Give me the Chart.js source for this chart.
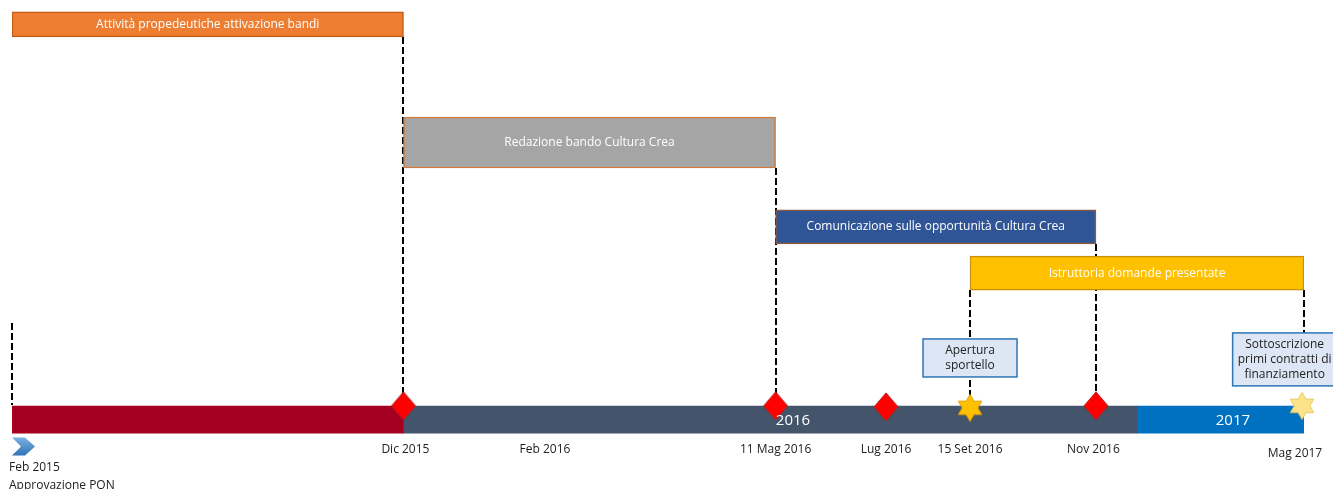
<!DOCTYPE html>
<html><head><meta charset="utf-8">
<script src="https://cdn.jsdelivr.net/npm/chart.js@4"></script>
<style>html,body{margin:0;padding:0;background:#fff}#wrap{width:1333px;height:489px;position:relative}</style>
</head><body><div id="wrap"><canvas id="c"></canvas></div>
<script>
// ---- data (timeline positions are in abstract timeline units 0..100, lanes 0..100 top->bottom) ----
const taskNames = ['Attività propedeutiche attivazione bandi','Redazione bando Cultura Crea','Comunicazione sulle opportunità Cultura Crea','Istruttoria domande presentate'];
const taskStart = [0, 30.3, 59.1, 74.15];
const taskEnd = [30.3, 59.1, 83.9, 100];
const taskLane = [5.0, 29.15, 46.4, 55.85];
const periodNames = ['', '2016', '2017'];
const periodStart = [0, 30.3, 87.07];
const periodEnd = [30.3, 87.07, 100];
const periodLabelPos = [15, 60.45, 94.5];
const timelineLane = 85.8;
const milestoneNames = ['Dic 2015','Feb 2016','11 Mag 2016','Lug 2016','15 Set 2016','Nov 2016','Mag 2017'];
const milestonePos = [30.45, 41.25, 59.1, 67.65, 74.15, 83.7, 99.3];
const milestoneLabelLane = [92.0, 92.0, 92.0, 92.0, 92.0, 92.0, 92.8];
const startLabel = ['Feb 2015', 'Approvazione PON'];
const diamondPos = [30.3, 59.1, 67.65, 83.9];
const diamondLane = [83.0, 83.0, 83.2, 83.0];
const starPos = [74.15, 99.85];
const starLane = [83.4, 83.0];
const connectorPos = [0, 30.3, 59.1, 74.15, 83.9, 100];
const connectorFrom = [66.05, 7.57, 34.36, 59.3, 49.9, 59.3];
const connectorTo = [82.8, 82.8, 82.8, 82.8, 82.8, 68.5];
const calloutText = [['Apertura','sportello'], ['Sottoscrizione','primi contratti di','finanziamento']];
const calloutPos = [74.15, 98.5];
const calloutLane = [73.2, 73.5];

// ---- styles ----
const taskColors = ['#ED7D31','#A5A5A5','#2F5597','#FFC000'];
const taskBorders = ['#C55A11','#D07A3A','#8A5A3C','#C8900A'];
const taskThickness = [25, 51, 34, 34];
const periodColors = ['#A50021','#44546A','#0070C0'];

function makeDiamond(){
  const c = document.createElement('canvas'); c.width = 26; c.height = 30;
  const g = c.getContext('2d');
  g.beginPath(); g.moveTo(13,1); g.lineTo(25,15); g.lineTo(13,29); g.lineTo(1,15); g.closePath();
  g.fillStyle = '#FF0000'; g.fill(); g.strokeStyle = '#B22020'; g.lineWidth = 1; g.stroke();
  return c;
}
function makeStar(fill, stroke){
  const c = document.createElement('canvas'); c.width = 28; c.height = 30;
  const g = c.getContext('2d');
  const cx = 14, cy = 15, R = 13.5, r = 7.8;
  g.beginPath();
  for (let i = 0; i < 12; i++){
    const a = -Math.PI/2 + i*Math.PI/6;
    const rr = i%2===0 ? R : r;
    const x = cx + rr*Math.cos(a), y = cy + rr*Math.sin(a);
    i===0 ? g.moveTo(x,y) : g.lineTo(x,y);
  }
  g.closePath(); g.fillStyle = fill; g.fill(); g.strokeStyle = stroke; g.lineWidth = 1; g.stroke();
  return c;
}
const diamondImg = makeDiamond();
const starImgs = [makeStar('#FFC000','#E0A000'), makeStar('#FBE38A','#E8C860')];

const datasets = [];
taskNames.forEach((n,i)=>{
  datasets.push({type:'bar', indexAxis:'y', label:n, data:[{x:[taskStart[i],taskEnd[i]], y:taskLane[i]}],
    backgroundColor:taskColors[i], borderColor:taskBorders[i], borderWidth:1.5, borderSkipped:false,
    barThickness:taskThickness[i], grouped:false, order:5});
});
periodNames.forEach((n,i)=>{
  datasets.push({type:'bar', indexAxis:'y', label:'p'+i, data:[{x:[periodStart[i],periodEnd[i]], y:timelineLane}],
    backgroundColor:periodColors[i], borderWidth:0, borderSkipped:false, barThickness:27, grouped:false, order:5});
});
datasets.push({type:'scatter', label:'diamonds', data:diamondPos.map((p,i)=>({x:p,y:diamondLane[i]})),
  pointStyle:diamondImg, clip:false, order:1});
datasets.push({type:'scatter', label:'stars', data:starPos.map((p,i)=>({x:p,y:starLane[i]})),
  pointStyle:starImgs, clip:false, order:1});

const FONT = '"Open Sans", "DejaVu Sans", sans-serif';

const decor = {
  id:'decor',
  beforeDatasetsDraw(chart){
    const {ctx, scales:{x,y}} = chart;
    ctx.save();
    ctx.strokeStyle = '#000'; ctx.lineWidth = 2; ctx.setLineDash([7,3]);
    connectorPos.forEach((p,i)=>{
      let px = Math.round(x.getPixelForValue(p));
      ctx.beginPath(); ctx.moveTo(px, y.getPixelForValue(connectorFrom[i])); ctx.lineTo(px, y.getPixelForValue(connectorTo[i])); ctx.stroke();
    });
    ctx.restore();
  },
  afterDatasetsDraw(chart){
    const {ctx, scales:{x,y}} = chart;
    ctx.save();
    // task labels
    ctx.fillStyle = '#fff'; ctx.textAlign = 'center'; ctx.textBaseline = 'middle';
    ctx.font = '12px ' + FONT;
    taskNames.forEach((n,i)=>{
      const cx = (x.getPixelForValue(taskStart[i]) + x.getPixelForValue(taskEnd[i]))/2;
      ctx.fillText(n, cx, y.getPixelForValue(taskLane[i]));
    });
    // period labels
    ctx.font = '15px ' + FONT;
    periodNames.forEach((n,i)=>{ if(n) ctx.fillText(n, x.getPixelForValue(periodLabelPos[i]), y.getPixelForValue(timelineLane)+1); });
    // milestone labels
    ctx.fillStyle = '#222'; ctx.font = '12px ' + FONT;
    milestoneNames.forEach((n,i)=>{ ctx.fillText(n, x.getPixelForValue(milestonePos[i]), y.getPixelForValue(milestoneLabelLane[i])); });
    // start chevron + label
    const x0 = x.getPixelForValue(0), yc = y.getPixelForValue(91.3);
    ctx.beginPath();
    ctx.moveTo(x0, yc-9); ctx.lineTo(x0+13, yc-9); ctx.lineTo(x0+23, yc); ctx.lineTo(x0+13, yc+9); ctx.lineTo(x0, yc+9); ctx.lineTo(x0+9, yc); ctx.closePath();
    const gr = ctx.createLinearGradient(x0, yc-9, x0, yc+9); gr.addColorStop(0,'#7DB0E3'); gr.addColorStop(1,'#2E75B6');
    ctx.fillStyle = gr; ctx.fill();
    ctx.fillStyle = '#222'; ctx.textAlign = 'left';
    ctx.fillText(startLabel[0], x0-3, y.getPixelForValue(95.7));
    ctx.fillText(startLabel[1], x0-3, y.getPixelForValue(99.3));
    // callouts
    ctx.textAlign = 'center';
    calloutText.forEach((lines,i)=>{
      const cx = x.getPixelForValue(calloutPos[i]), cy = y.getPixelForValue(calloutLane[i]);
      const w = i===0 ? 94 : 104, h = lines.length*15 + 8;
      ctx.fillStyle = '#DCE6F4'; ctx.strokeStyle = '#2E75B6'; ctx.lineWidth = 1.5;
      ctx.fillRect(cx-w/2, cy-h/2, w, h); ctx.strokeRect(cx-w/2, cy-h/2, w, h);
      ctx.fillStyle = '#222'; ctx.font = '12px ' + FONT;
      lines.forEach((l,j)=>ctx.fillText(l, cx, cy - (lines.length-1)*7.5 + j*15));
    });
    ctx.restore();
  }
};

new Chart(document.getElementById('c'), {
  data:{datasets},
  options:{
    responsive:true, maintainAspectRatio:false, animation:false,
    layout:{autoPadding:false, padding:{left:12, right:29, top:0, bottom:0}},
    plugins:{legend:{display:false}, tooltip:{enabled:false}},
    scales:{
      x:{type:'linear', min:0, max:100, display:false, offset:false},
      y:{type:'linear', min:0, max:100, reverse:true, display:false, offset:false}
    }
  },
  plugins:[decor]
});
</script></body></html>
